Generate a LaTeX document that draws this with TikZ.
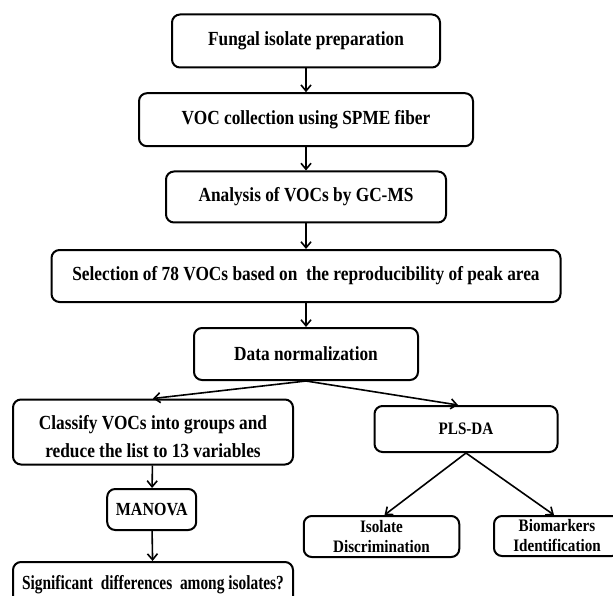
\documentclass[tikz,border=0pt]{standalone}
\usepackage{fontspec}
\setmainfont{Liberation Serif}[FakeStretch=0.865]
\usetikzlibrary{arrows.meta}

\begin{document}
\begin{tikzpicture}[
                x=1pt, y=-1pt,
                etapa/.style={shape=rectangle, draw=black, line width=2pt, rounded corners=8pt,
                    inner sep=0pt, align=center, font=\fontsize{20}{27.5}\selectfont\bfseries},
                seta/.style={line width=1.6pt, -{Straight Barb[length=6pt,width=10pt]}},
            ]
            \useasboundingbox (0,0) rectangle (613,596);
            \clip (0,0) rectangle (613,596);

            \node[etapa, minimum width=268pt, minimum height=53pt] (a) at (306, 41) {Fungal isolate preparation};
            \node[etapa, minimum width=334pt, minimum height=53pt] (b) at (306, 119.7) {VOC collection using SPME fiber};
            \node[etapa, minimum width=280pt, minimum height=51pt] (c) at (306, 197) {Analysis of VOCs by GC-MS};
            \node[etapa, minimum width=509pt, minimum height=52pt] (d) at (306, 276) {Selection of 78 VOCs based on\ \ the reproducibility of peak area};
            \node[etapa, minimum width=224pt, minimum height=52pt] (e) at (306, 354) {Data normalization};
            \node[etapa, minimum width=280pt, minimum height=65pt] (f) at (153, 432) {\rule{0pt}{23.5pt}Classify VOCs into groups and\\reduce the list to 13 variables};
            \node[etapa, minimum width=183pt, minimum height=46pt, font=\fontsize{17.5}{21}\selectfont\bfseries] (g) at (466, 429) {PLS-DA};
            \node[etapa, minimum width=89pt, minimum height=41pt, font=\fontsize{18.5}{22}\selectfont\bfseries] (h) at (151.7, 509.5) {MANOVA};
            \node[etapa, minimum width=280pt, minimum height=46pt] (i) at (153, 585) {\scalebox{0.89}[1]{Significant\ \ differences\ \ among isolates?}};
            \node[etapa, minimum width=155.5pt, minimum height=41pt, font=\fontsize{17.5}{20}\selectfont\bfseries] (j) at (381.5, 536.5) {Isolate\\Discrimination};
            \node[etapa, minimum width=126pt, minimum height=40pt, font=\fontsize{17.5}{20}\selectfont\bfseries] (k) at (557, 536) {Biomarkers\\Identification};

            \draw[seta] (a) -- (b);
            \draw[seta] (b) -- (c);
            \draw[seta] (c) -- (d);
            \draw[seta] (d) -- (e);
            \draw[seta] (e.south) -- (f.north);
            \draw[seta] (e.south) -- ([xshift=-8pt]g.north);
            \draw[seta] (f) -- (h);
            \draw[seta] (h) -- (i);
            \draw[seta] (g.south) -- ([xshift=3pt]j.north);
            \draw[seta] (g.south) -- ([xshift=-3pt]k.north);
        \end{tikzpicture}
\end{document}
